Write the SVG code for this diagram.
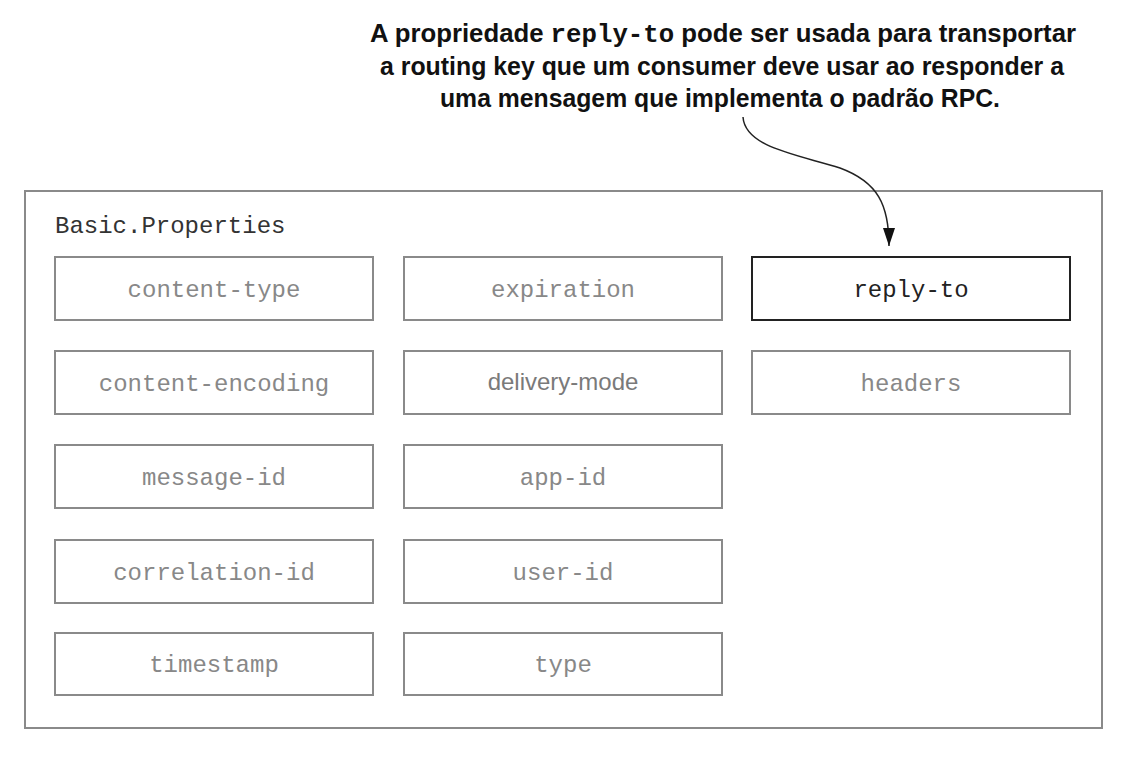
<svg xmlns="http://www.w3.org/2000/svg" width="1128" height="758" viewBox="0 0 1128 758">
<style>
.box{fill:#fff;stroke:#8a8a8a;stroke-width:2}
.hbox{fill:#fff;stroke:#222;stroke-width:2}
.lbl{font-family:"Liberation Mono",monospace;font-size:24px;fill:#888;text-anchor:middle}
.hlbl{font-family:"Liberation Mono",monospace;font-size:24px;fill:#222;text-anchor:middle}
.note{font-family:"Liberation Sans",Arial,sans-serif;font-weight:bold;font-size:25px;fill:#111;text-anchor:middle}
</style>
<defs>
<marker id="ah" markerWidth="18" markerHeight="12" refX="18" refY="6" orient="auto" markerUnits="userSpaceOnUse" viewBox="0 0 18 12">
<path d="M0,0 L18,6 L0,12 z" fill="#111"/>
</marker>
</defs>
<rect width="1128" height="758" fill="#fff"/>
<g id="note">
<text class="note" x="723" y="42" textLength="706" lengthAdjust="spacingAndGlyphs">A propriedade <tspan font-family="Liberation Mono,monospace">reply-to</tspan> pode ser usada para transportar</text>
<text class="note" x="722" y="75" textLength="684" lengthAdjust="spacingAndGlyphs">a routing key que um consumer deve usar ao responder a</text>
<text class="note" x="720" y="107" textLength="560" lengthAdjust="spacingAndGlyphs">uma mensagem que implementa o padrão RPC.</text>
</g>
<g id="container">
<rect x="25" y="191" width="1077" height="537" fill="#fff" stroke="#8a8a8a" stroke-width="2"/>
<text x="55" y="233" font-family="Liberation Mono,monospace" font-size="24" fill="#333">Basic.Properties</text>
</g>
<g id="content-type"><rect class="box" x="55" y="257" width="318" height="63"/><text class="lbl" x="214" y="297">content-type</text></g>
<g id="expiration"><rect class="box" x="404" y="257" width="318" height="63"/><text class="lbl" x="563" y="297">expiration</text></g>
<g id="reply-to"><rect class="hbox" x="752" y="257" width="318" height="63"/><text class="hlbl" x="911" y="297">reply-to</text></g>
<g id="content-encoding"><rect class="box" x="55" y="351" width="318" height="63"/><text class="lbl" x="214" y="391">content-encoding</text></g>
<g id="delivery-mode"><rect class="box" x="404" y="351" width="318" height="63"/><text x="563" y="390" font-family="Liberation Sans,Arial,sans-serif" font-size="24" fill="#7a7a7a" text-anchor="middle">delivery-mode</text></g>
<g id="headers"><rect class="box" x="752" y="351" width="318" height="63"/><text class="lbl" x="911" y="391">headers</text></g>
<g id="message-id"><rect class="box" x="55" y="445" width="318" height="63"/><text class="lbl" x="214" y="485">message-id</text></g>
<g id="app-id"><rect class="box" x="404" y="445" width="318" height="63"/><text class="lbl" x="563" y="485">app-id</text></g>
<g id="correlation-id"><rect class="box" x="55" y="540" width="318" height="63"/><text class="lbl" x="214" y="580">correlation-id</text></g>
<g id="user-id"><rect class="box" x="404" y="540" width="318" height="63"/><text class="lbl" x="563" y="580">user-id</text></g>
<g id="timestamp"><rect class="box" x="55" y="633" width="318" height="62"/><text class="lbl" x="214" y="672">timestamp</text></g>
<g id="type"><rect class="box" x="404" y="633" width="318" height="62"/><text class="lbl" x="563" y="672">type</text></g>
<g id="connectors">
<path d="M743,117 C745,148 800,155 840,168 C878,182 889,205 889,246" fill="none" stroke="#222" stroke-width="1.5" marker-end="url(#ah)"/>
</g>
</svg>
